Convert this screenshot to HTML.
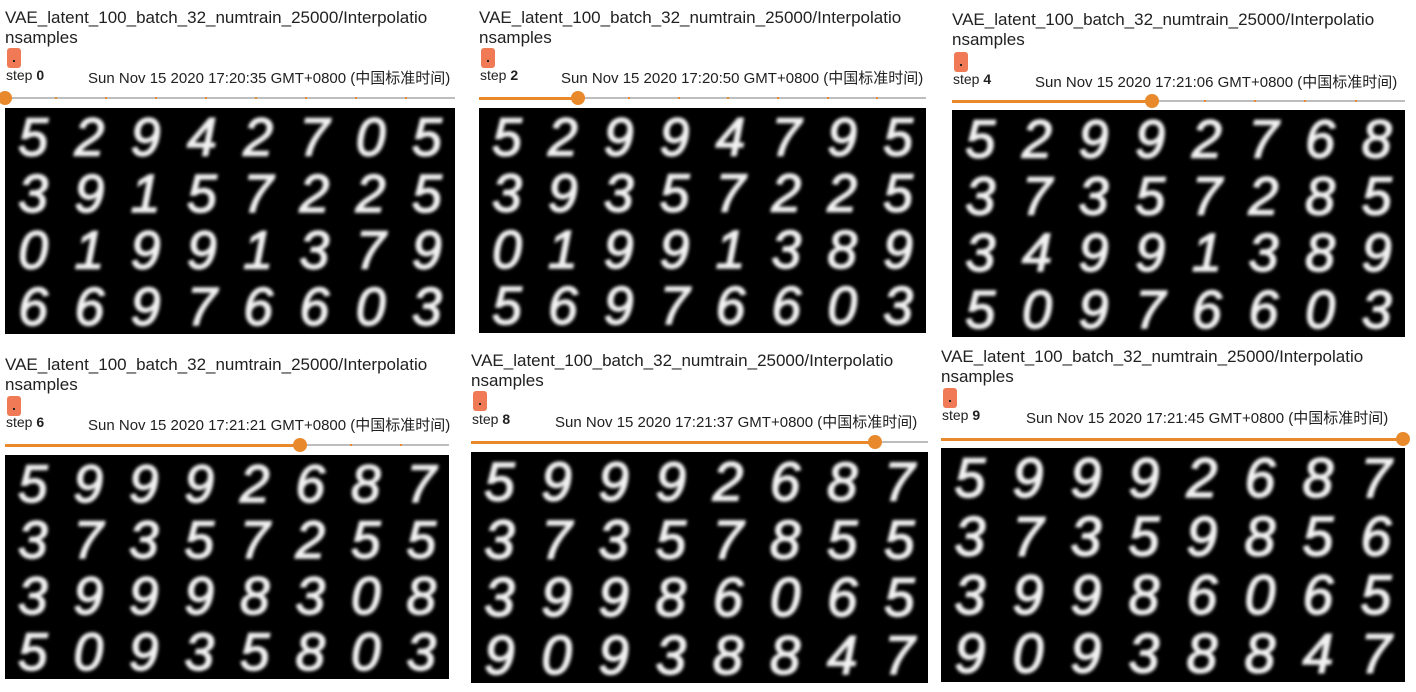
<!DOCTYPE html>
<html><head><meta charset="utf-8">
<style>
body{margin:0;width:1416px;height:692px;background:#fff;position:relative;overflow:hidden;font-family:"Liberation Sans","Noto Sans CJK SC",sans-serif;}
.panel{position:absolute;}
.title{position:absolute;left:0;font-size:17px;line-height:20px;color:#212121;white-space:nowrap;}
.badge{position:absolute;width:14px;height:20px;background:#f07a55;border-radius:3px;}
.badge:after{content:"";position:absolute;left:6px;top:12px;width:2px;height:2px;background:#222;}
.step{position:absolute;font-size:14px;color:#212121;white-space:nowrap;}
.date{position:absolute;font-size:15px;color:#212121;white-space:nowrap;}
.track{position:absolute;height:2px;background:#bdbdbd;}
.fill{position:absolute;height:3px;background:#e8892c;}
.tick{position:absolute;width:2px;height:2px;background:#e8892c;}
.thumb{position:absolute;width:14px;height:14px;border-radius:50%;background:#e8892c;}
svg.img{position:absolute;background:#000;}
</style></head><body>
<script>
const panels=[
 {x:5,w:450,ty:8,by:48,sy:67,dy:67,dx:83,ly:98,iy:108,ih:226,step:0,date:"Sun Nov 15 2020 17:20:35 GMT+0800 (中国标准时间)",digits:["52942705","39157225","01991379","66976603"]},
 {x:479,w:447,ty:8,by:48,sy:67,dy:67,dx:82,ly:98,iy:108,ih:225,step:2,date:"Sun Nov 15 2020 17:20:50 GMT+0800 (中国标准时间)",digits:["52994795","39357225","01991389","56976603"]},
 {x:952,w:453,ty:10,by:52,sy:71,dy:71,dx:83,ly:101,iy:110,ih:227,step:4,date:"Sun Nov 15 2020 17:21:06 GMT+0800 (中国标准时间)",digits:["52992768","37357285","34991389","50976603"]},
 {x:5,w:444,ty:355,by:396,sy:414,dy:414,dx:83,ly:445,iy:455,ih:224,step:6,date:"Sun Nov 15 2020 17:21:21 GMT+0800 (中国标准时间)",digits:["59992687","37357255","39998308","50935803"]},
 {x:471,w:457,ty:351,by:391,sy:411,dy:411,dx:84,ly:442,iy:452,ih:231,step:8,date:"Sun Nov 15 2020 17:21:37 GMT+0800 (中国标准时间)",digits:["59992687","37357855","39986065","90938847"]},
 {x:941,w:464,ty:347,by:388,sy:407,dy:407,dx:85,ly:439,iy:448,ih:234,step:9,date:"Sun Nov 15 2020 17:21:45 GMT+0800 (中国标准时间)",digits:["59992687","37359856","39986065","90938847"]}
];
const maxStep=9;
panels.forEach((p,i)=>{
 const d=document.createElement('div');d.className='panel';
 
 
 d.style.left=p.x+'px';d.style.top='0px';
 let h='';
 h+=`<div class="title" style="top:${p.ty}px">VAE_latent_100_batch_32_numtrain_25000/Interpolatio<br>nsamples</div>`;
 h+=`<div class="badge" style="left:2px;top:${p.by}px"></div>`;
 h+=`<div class="step" style="left:1px;top:${p.sy}px">step <b>${p.step}</b></div>`;
 h+=`<div class="date" style="left:${p.dx}px;top:${p.dy}px">${p.date}</div>`;
 const frac=p.step/maxStep, tx=frac*(p.w-2);
 h+=`<div class="track" style="left:0;width:${p.w}px;top:${p.ly-1}px"></div>`;
 h+=`<div class="fill" style="left:0;width:${tx}px;top:${p.ly-1.5}px"></div>`;
 for(let k=1;k<maxStep;k++){h+=`<div class="tick" style="left:${k/maxStep*p.w}px;top:${p.ly-1}px"></div>`;}
 h+=`<div class="thumb" style="left:${tx-7}px;top:${p.ly-7}px"></div>`;
 const cw=p.w/8, rh=p.ih/4;
 let s=`<svg class="img" width="${p.w}" height="${p.ih}" style="left:0;top:${p.iy}px"><defs><filter id="b${i}"><feGaussianBlur stdDeviation="1.6"/></filter></defs><g filter="url(#b${i})" fill="#f2f2f2" stroke="#f2f2f2" stroke-width="1.5" font-family="Liberation Sans, sans-serif" font-style="italic" font-size="${rh*0.95}" text-anchor="middle">`;
 p.digits.forEach((row,r)=>{[...row].forEach((c,ci)=>{s+=`<text x="${cw*(ci+0.5)}" y="${rh*(r+0.5)+rh*0.34}">${c}</text>`;});});
 s+='</g></svg>';
 h+=s;
 d.innerHTML=h;document.body.appendChild(d);
});
</script>
</body></html>
